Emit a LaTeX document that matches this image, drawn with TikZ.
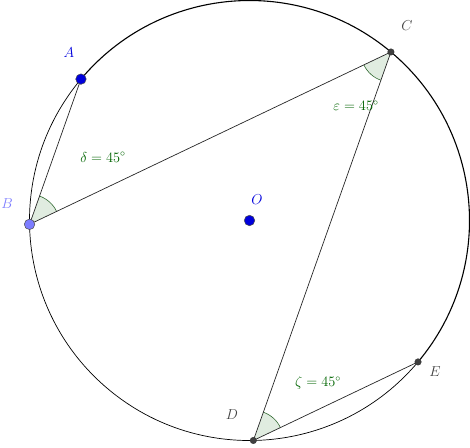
\documentclass[tikz,border=0pt]{standalone}
\usetikzlibrary{angles,calc}
\definecolor{ggreen}{RGB}{0,100,0}
\definecolor{ptblue}{RGB}{0,0,220}
\definecolor{ptlight}{RGB}{125,125,255}
\definecolor{ptgray}{RGB}{64,64,64}
\begin{document}
\begin{tikzpicture}[x=1pt,y=1pt,
  lbl/.style={font=\fontsize{14}{16}\selectfont},
  anglbl/.style={font=\fontsize{14}{16}\selectfont, text=ggreen},
  bigpt/.style={circle, inner sep=0pt, minimum size=10.5pt, draw=black!70, line width=0.5pt},
  smallpt/.style={circle, inner sep=0pt, minimum size=6.5pt, fill=ptgray, draw=black!80, line width=0.4pt},
  seg/.style={line width=0.7pt, black!85},
  wedge/.style={draw=ggreen!70!black!80, fill=ggreen!12, line width=0.6pt, angle radius=30pt}]
\useasboundingbox (0,0) rectangle (470,-447);
\coordinate (O) at (249.5,-220.5);
\coordinate (A) at ($(O)+(140:220)$);
\coordinate (B) at ($(O)+(181:220)$);
\coordinate (C) at ($(O)+(50:220)$);
\coordinate (D) at ($(O)+(271:220)$);
\coordinate (E) at ($(O)+(-40:220)$);
% angle wedges
\pic[wedge] {angle=C--B--A};
\pic[wedge] {angle=B--C--D};
\pic[wedge] {angle=E--D--C};
% circle arcs
\draw[line width=1.1pt] (E) arc[start angle=-40, end angle=140, radius=220];
\draw[line width=0.7pt] (A) arc[start angle=140, end angle=320, radius=220];
% segments
\draw[seg] (A) -- (B);
\draw[seg] (B) -- (C);
\draw[seg] (C) -- (D);
\draw[seg] (D) -- (E);
% points
\node[bigpt, fill=ptblue] (Ap) at (A) {};
\node[bigpt, fill=ptlight] (Bp) at (B) {};
\node[bigpt, fill=ptblue] (Op) at (O) {};
\node[smallpt] (Cp) at (C) {};
\node[smallpt] (Dp) at (D) {};
\node[smallpt] (Ep) at (E) {};
% labels
\node[lbl, text=ptblue] (la) at (69,-53) {$A$};
\node[lbl, text=ptlight] (lb) at (7,-204) {$B$};
\node[lbl, text=ptgray] (lc) at (407,-26) {$C$};
\node[lbl, text=ptgray] (ld) at (232,-415) {$D$};
\node[lbl, text=ptgray] (le) at (435,-372) {$E$};
\node[lbl, text=ptblue] (lo) at (257,-200) {$O$};
\node[anglbl] (ldel) at (103,-157) {$\delta = 45^\circ$};
\node[anglbl] (leps) at (356,-106) {$\varepsilon = 45^\circ$};
\node[anglbl] (lzet) at (318,-383) {$\zeta = 45^\circ$};
\end{tikzpicture}
\end{document}
